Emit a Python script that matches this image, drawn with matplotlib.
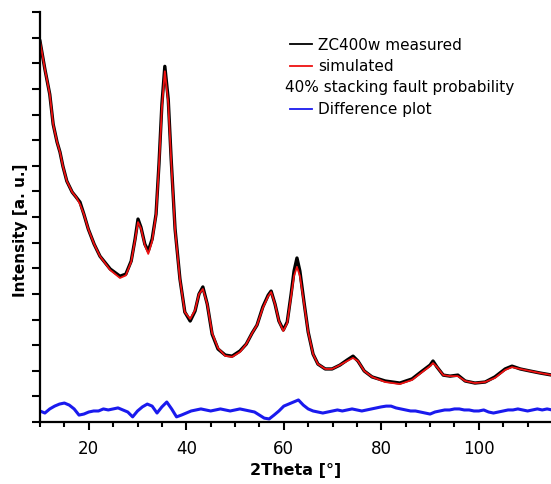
import numpy as np
import matplotlib
matplotlib.use("Agg")
import matplotlib.pyplot as plt
from matplotlib.ticker import MultipleLocator, NullFormatter

# measured and simulated pattern, 2theta in degrees, intensity in counts
two_theta = [10, 11, 12, 12.7, 13.5, 14.1, 14.7, 15.5, 16.6, 17.4, 18.2, 19, 19.9,
             21.1, 22.3, 24.4, 26.4, 27.6, 28.7, 29.5, 30.1, 30.7, 31.5, 32.2, 33,
             33.8, 34.4, 35, 35.6, 36.3, 36.9, 37.7, 38.7, 39.7, 40.8, 41.8, 42.6,
             43.4, 44.3, 45.3, 46.5, 48, 49.4, 51, 52.3, 53.5, 54.5, 55.7, 56.8,
             57.4, 58.2, 59, 59.9, 60.7, 61.5, 62.1, 62.7, 63.3, 64.2, 65, 66, 67,
             68.5, 69.9, 71.5, 73, 74.2, 75.2, 76.5, 78.1, 80.8, 83.8, 86.3, 88.4,
             90, 90.6, 91.4, 92.7, 94.1, 95.7, 97.2, 99.2, 101.3, 103.3, 105.4,
             106.8, 108.5, 110.5, 112.6, 115]

measured = [14860, 13770, 12790, 11620, 10920, 10530, 9980, 9400, 8970, 8780, 8580,
            8110, 7530, 6940, 6470, 5970, 5690, 5770, 6280, 7140, 7920, 7600, 6940,
            6670, 7140, 8110, 10060, 12400, 13880, 12600, 10260, 7530, 5580, 4290,
            3940, 4330, 4990, 5270, 4600, 3430, 2850, 2610, 2570, 2770, 3040, 3470,
            3780, 4490, 4950, 5110, 4600, 3940, 3590, 3900, 4990, 5890, 6400, 5890,
            4600, 3510, 2650, 2260, 2070, 2070, 2220, 2420, 2570, 2380, 1990, 1760,
            1600, 1520, 1680, 1990, 2220, 2380, 2150, 1830, 1790, 1830, 1600, 1520,
            1560, 1760, 2070, 2180, 2070, 1990, 1910, 1830]

simulated = [14860, 13770, 12790, 11620, 10920, 10530, 9980, 9400, 8970, 8780, 8500,
             8110, 7530, 6940, 6470, 5930, 5620, 5720, 6250, 7100, 7800, 7560, 6900,
             6560, 7060, 8080, 10000, 12250, 13690, 12450, 10200, 7500, 5560, 4290,
             4020, 4370, 4990, 5190, 4600, 3470, 2890, 2580, 2540, 2730, 3040, 3470,
             3780, 4450, 4910, 5070, 4600, 3940, 3550, 3860, 4910, 5700, 6050, 5700,
             4560, 3510, 2650, 2260, 2070, 2070, 2220, 2380, 2500, 2380, 1990, 1760,
             1560, 1480, 1640, 1950, 2180, 2300, 2150, 1830, 1790, 1790, 1600, 1520,
             1560, 1720, 2030, 2140, 2070, 1990, 1910, 1830]

# difference plot, sampled every degree from 10 to 115
diff_theta = list(range(10, 116))
difference = [430, 350, 510, 620, 700, 740, 660, 510, 270, 310, 390, 430, 430, 510,
              470, 510, 550, 470, 390, 200, 430, 590, 700, 620, 350, 590, 780, 510,
              200, 270, 350, 430, 470, 510, 470, 430, 470, 510, 470, 430, 470, 510,
              470, 430, 390, 270, 150, 120, 270, 430, 620, 700, 780, 860, 660, 510,
              430, 390, 350, 390, 430, 470, 430, 470, 510, 470, 430, 470, 510, 550,
              590, 620, 620, 550, 510, 470, 430, 430, 390, 350, 310, 390, 430, 470,
              470, 510, 510, 470, 470, 430, 430, 470, 390, 350, 390, 430, 470, 470,
              510, 470, 430, 470, 510, 470, 510, 470]

fig = plt.figure(figsize=(5.51, 4.85), dpi=100)
ax = fig.add_axes([40 / 551, 62 / 485, 1 - 40 / 551, 410 / 485])

ax.plot(two_theta, measured, color="black", lw=2.4, solid_joinstyle="round")
ax.plot(two_theta, simulated, color="#ee1111", lw=1.3)
ax.plot(diff_theta, difference, color="#1a1aee", lw=2.2)

ax.set_xlim(10, 114.8)
ax.set_ylim(0, 16000)
ax.xaxis.set_major_locator(MultipleLocator(20))
ax.xaxis.set_minor_locator(MultipleLocator(5))
ax.yaxis.set_major_locator(MultipleLocator(1000))
ax.yaxis.set_major_formatter(NullFormatter())

for side in ("top", "right"):
    ax.spines[side].set_visible(False)
for side in ("left", "bottom"):
    ax.spines[side].set_linewidth(1.6)
ax.tick_params(axis="both", which="major", direction="out", width=1.5, length=6,
               labelsize=12, colors="black")
ax.tick_params(axis="x", which="minor", direction="out", width=1.5, length=3.5)
ax.tick_params(axis="x", which="major", length=6, pad=6)

ax.set_xlabel("2Theta [°]", fontsize=11.5, fontweight="bold", labelpad=4)
ax.set_ylabel("Intensity [a. u.]", fontsize=11, fontweight="bold")
ax.yaxis.set_label_coords(-12 / 511, 0.47)

# legend drawn by hand so the text-only line can sit flush left
entries = [("ZC400w measured", "black"), ("simulated", "#ee1111"),
           ("40% stacking fault probability", None), ("Difference plot", "#1a1aee")]
x0 = (285 - 40) / 511
y_first = 1 - (45 - 13) / 410
step = 21.5 / 410
for i, (label, col) in enumerate(entries):
    y = y_first - i * step
    if col is None:
        ax.text(x0, y, label, transform=ax.transAxes, fontsize=11, va="center")
    else:
        hx = x0 + 5 / 511
        ax.plot([hx, hx + 22 / 511], [y, y], transform=ax.transAxes, color=col, lw=1.3)
        ax.text(x0 + 33 / 511, y, label, transform=ax.transAxes, fontsize=11,
                va="center")

fig.savefig("out.png", dpi=100)
